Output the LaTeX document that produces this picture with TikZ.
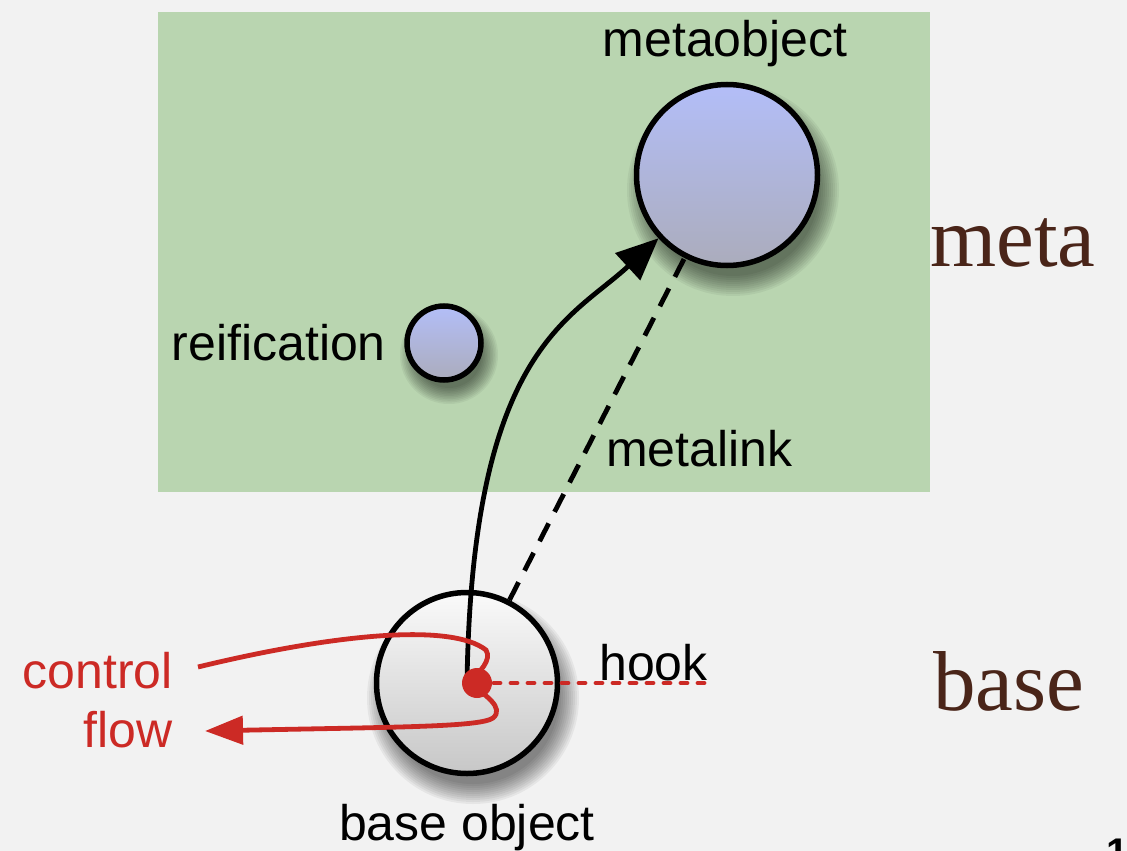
\documentclass[tikz,border=0pt]{standalone}
\usepackage{fontspec}
\setmainfont{Liberation Sans}
\newfontfamily\tagfont{Liberation Serif}
\usepackage{xcolor}
\usepackage{tikz}
\usetikzlibrary{arrows.meta,positioning}

\definecolor{fondo}{HTML}{F2F2F2}
\definecolor{zona}{HTML}{B9D5B0}
\definecolor{rojo}{HTML}{CC2A25}
\definecolor{marron}{HTML}{4A2519}
\definecolor{azul}{HTML}{B3BEF8}
\definecolor{azulgris}{HTML}{ABACBC}

\begin{document}
\begin{tikzpicture}[x=1pt,y=-1pt,
  obj/.style={circle,draw=black,line width=5.5pt,inner sep=0pt},
  mobj/.style={obj,top color=azul,bottom color=azulgris},
  bobj/.style={obj,top color=white!98!black,bottom color=black!22},
  lbl/.style={font=\fontsize{50}{60}\selectfont,inner sep=0pt},
  tagx/.style={font=\tagfont\fontsize{85}{100}\selectfont,text=marron,inner sep=0pt},
  fl/.style={line width=4.8pt},
  cf/.style={draw=rojo,line width=4.8pt},
  sombra/.style={fill=black,opacity=0.05}]

  \fill[fondo] (0,0) rectangle (1127,851);
  \useasboundingbox (0,0) rectangle (1127,851);
  \fill[zona] (158,12) rectangle (930,492);

  \foreach \d in {0,2,...,20} {
    \fill[sombra] (733,190) circle[radius=86pt+\d pt];
    \fill[sombra] (473,698) circle[radius=86pt+\d pt];
    \fill[sombra] (449,355) circle[radius=33pt+0.8*\d pt];
  }

  \node[mobj,minimum size=181pt] (meta) at (727,175) {};
  \node[mobj,minimum size=74pt]  (reif) at (444,343) {};
  \node[bobj,minimum size=181pt] (base) at (467,683) {};

  \coordinate (cfin)  at (198,667);
  \coordinate (cfout) at (205,731);
  \coordinate (hookend) at (705,683);

  \draw[fl,dash pattern=on 20pt off 13pt] (base) -- (meta);
  \draw[fl,-{Triangle[length=42pt,width=36pt]}]
    (467,683) .. controls (472,350) and (570,320) .. (meta);

  \draw[cf,line cap=round,dash pattern=on 6pt off 11pt] (477,683) -- (hookend);
  \draw[cf,-{Triangle[length=38pt,width=28pt]}]
    (cfin) .. controls (330,635) and (450,622) .. (486,650)
           .. controls (492,660) and (480,672) .. (468,683)
           .. controls (485,694) and (505,708) .. (493,718)
           .. controls (480,727) and (400,727) .. (cfout);
  \fill[rojo] (477,683) circle[radius=15pt] node (hook) {};

  \node[lbl,anchor=base] (metalbl) at (725,57) {metaobject};
  \node[lbl,anchor=base east] (reiflbl) at (386,360) {reification};
  \node[lbl,anchor=base west] (linklbl) at (606,466) {metalink};
  \node[lbl,anchor=base west] (hooklbl) at (599,680) {hook};
  \node[lbl,anchor=base] (baselbl) at (467,840) {base object};
  \node[lbl,anchor=base east,text=rojo] (cflbl1) at (173,688) {control};
  \node[lbl,anchor=base east,text=rojo] (cflbl2) at (173,747) {flow};

  \node[tagx,anchor=base west] (metatag) at (930,266) {meta};
  \node[tagx,anchor=base west] (basetag) at (933,710) {base};
  \node[font=\bfseries\fontsize{40}{48}\selectfont,anchor=north west,inner sep=0pt] (pagenum) at (1106,838) {13};
\end{tikzpicture}
\end{document}
